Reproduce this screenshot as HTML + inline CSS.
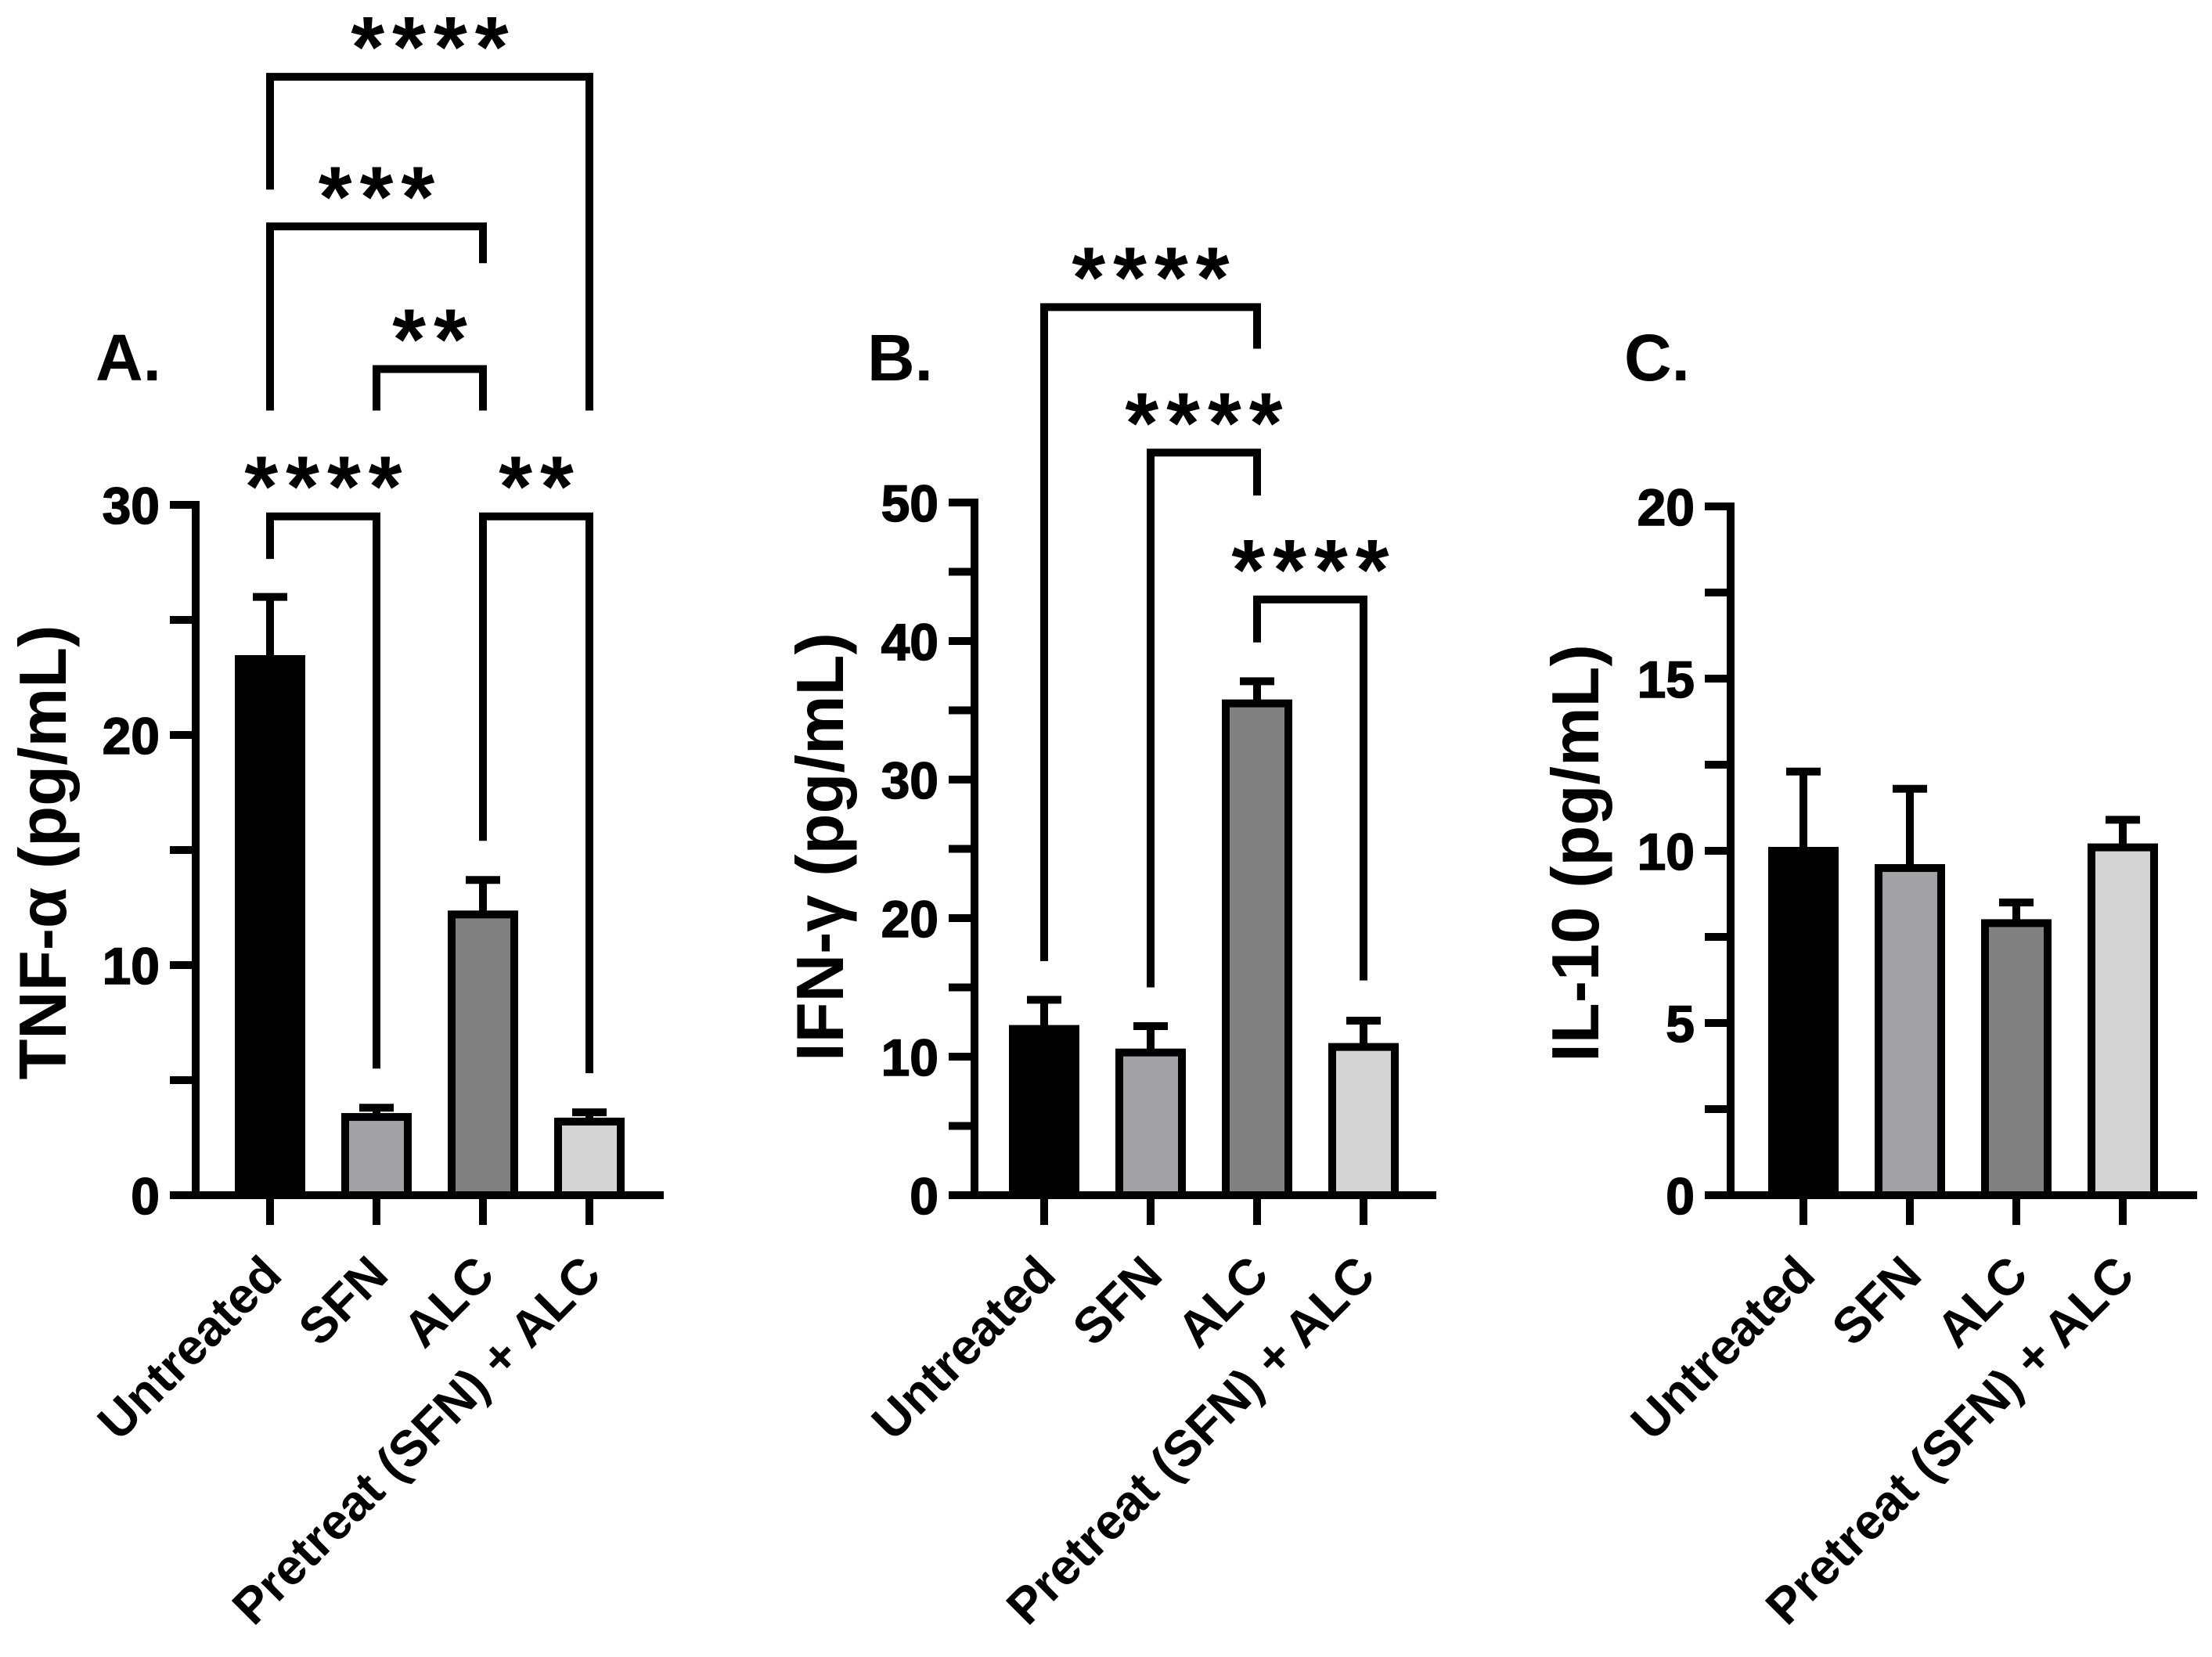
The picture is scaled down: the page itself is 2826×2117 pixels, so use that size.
<!DOCTYPE html>
<html><head><meta charset="utf-8"><style>
html,body{margin:0;padding:0;background:#fff;}
svg{display:block;font-family:"Liberation Sans",Arial,sans-serif;font-weight:bold;}
</style></head><body>
<svg id="chart" width="2826" height="2117" viewBox="0 0 2826 2117" xmlns="http://www.w3.org/2000/svg"></svg>
<script>
const categories = ["Untreated", "SFN", "ALC", "Pretreat (SFN) + ALC"];
const barColors = ["#000000", "#a2a1a6", "#808080", "#d4d4d4"];
const tnfMeans = [23.3, 3.4, 12.2, 3.2];
const tnfErrors = [2.7, 0.4, 1.5, 0.4];
const ifnMeans = [12.0, 10.3, 35.5, 10.7];
const ifnErrors = [2.1, 1.9, 1.6, 1.9];
const il10Means = [10.0, 9.5, 7.9, 10.1];
const il10Errors = [2.3, 2.3, 0.6, 0.8];
const tnfTicks = [0, 10, 20, 30];
const ifnTicks = [0, 10, 20, 30, 40, 50];
const il10Ticks = [0, 5, 10, 15, 20];
const tnfSig = [[0,1,"****",29.5,27.65,5.5],[2,3,"**",29.5,15.4,5.3],[1,2,"**",35.9,34.1,34.1],[0,2,"***",42.1,34.1,40.5],[0,3,"****",48.6,43.7,34.1]];
const ifnSig = [[0,2,"****",64.1,16.9,61.1],[1,2,"****",53.6,15.0,50.5],[2,3,"****",43.0,39.9,15.5]];

const svg = document.getElementById('chart');
const NS = "http://www.w3.org/2000/svg";
function mk(tag, attrs, parent){const e=document.createElementNS(NS,tag);for(const k in attrs)e.setAttribute(k,attrs[k]);(parent||svg).appendChild(e);return e;}

function panel(cfg){
  const g = mk('g',{});
  
  
  const y0 = 1527, yTop = cfg.yTopPx, max = cfg.max;
  const y = v => y0 - (v / max) * (y0 - yTop);
  const x = i => cfg.firstX + i * 136;
  cfg.means.forEach((m,i)=>{
    const r = mk('rect',{x:x(i)-40,y:y(m),width:80,height:y0-y(m),fill:barColors[i],stroke:'#000','stroke-width':10},g);
    
    
    const top = y(m + cfg.errs[i]);
    const eb = mk('path',{d:`M${x(i)},${y(m)} V${top} M${x(i)-22},${top} H${x(i)+22}`,stroke:'#000','stroke-width':10,fill:'none'},g);
    
    
  });
  const ax = mk('path',{d:`M${cfg.axisX},${yTop-5} V${y0} M${cfg.axisX-33},${y0} H${cfg.xEnd}`,stroke:'#000','stroke-width':10,fill:'none'},g);
  
  
  for(let v=0; v<=max+1e-9; v+=cfg.minor){
    mk('line',{x1:cfg.axisX-33,x2:cfg.axisX,y1:y(v),y2:y(v),stroke:'#000','stroke-width':10},g);
  }
  cfg.ticks.forEach(t=>{
    const tl = mk('text',{x:cfg.axisX-46,y:y(t)+24,'text-anchor':'end','font-size':66,stroke:'#000','stroke-width':1.5},g);
    tl.textContent = t;
    
    
  });
  categories.forEach((c,i)=>{
    mk('line',{x1:x(i),x2:x(i),y1:y0,y2:y0+38,stroke:'#000','stroke-width':10},g);
    const ax0 = x(i)+18, ay0 = 1632;
    const t = mk('text',{x:ax0,y:ay0,'text-anchor':'end','font-size':64,transform:`rotate(-45 ${ax0} ${ay0})`},g);
    t.textContent = c;
    
    
  });
  const yt = mk('text',{x:0,y:0,'text-anchor':'middle','font-size':85,transform:`translate(${cfg.titleX},${cfg.titleY}) rotate(-90)`},g);
  yt.textContent = cfg.title;
  
  
  const pl = mk('text',{x:cfg.labelX,y:486,'font-size':84},g);
  pl.textContent = cfg.letter;
  
  
  (cfg.sig||[]).forEach(s=>{
    const [a,b,stars,hv,la,lb] = s;
    const bk = mk('path',{d:`M${x(a)},${y(la)} V${y(hv)} H${x(b)} V${y(lb)}`,stroke:'#000','stroke-width':10,fill:'none'},g);
    
    
    const st = mk('text',{x:(x(a)+x(b))/2+5,y:y(hv),'text-anchor':'middle','font-size':110,'letter-spacing':10},g);
    st.textContent = stars;
    
    
  });
}
panel({key:'tnf',means:tnfMeans,errs:tnfErrors,ticks:tnfTicks,max:30,minor:5,yTopPx:645,axisX:250,firstX:345,xEnd:848,title:"TNF-α (pg/mL)",titleX:84,titleY:1089,letter:"A.",labelX:122,sig:tnfSig});
panel({key:'ifn',means:ifnMeans,errs:ifnErrors,ticks:ifnTicks,max:50,minor:5,yTopPx:642,axisX:1245,firstX:1334,xEnd:1835,title:"IFN-γ (pg/mL)",titleX:1077,titleY:1082,letter:"B.",labelX:1108,sig:ifnSig});
panel({key:'il10',means:il10Means,errs:il10Errors,ticks:il10Ticks,max:20,minor:2.5,yTopPx:647,axisX:2211,firstX:2304,xEnd:2807,title:"IL-10 (pg/mL)",titleX:2042,titleY:1090,letter:"C.",labelX:2075,sig:[]});
</script>
</body></html>
